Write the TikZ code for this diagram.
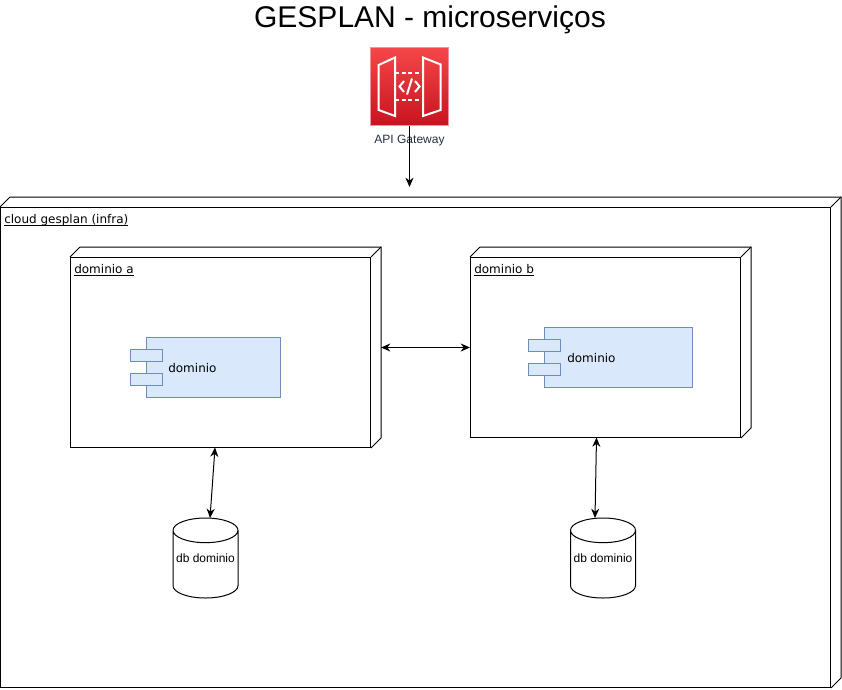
\documentclass[tikz,border=0pt]{standalone}
\usepackage{fontspec}
\setmainfont{Liberation Sans}
\newfontfamily\boxfont{DejaVu Sans}
\usetikzlibrary{calc, arrows.meta, shapes.geometric}
\definecolor{compfill}{HTML}{DAE8FC}
\definecolor{compline}{HTML}{6C8EBF}
\definecolor{awsink}{HTML}{232F3E}
\definecolor{awstop}{HTML}{F54749}
\definecolor{awsbottom}{HTML}{C7131F}
\definecolor{awsline}{HTML}{F0949A}
\newsavebox{\ulbox}
\newcommand{\boxul}[1]{\sbox{\ulbox}{#1}\rlap{\raisebox{-1.6pt}{\rule{\wd\ulbox}{0.6pt}}}\usebox{\ulbox}}
\tikzset{
    link/.style={line width=0.75pt, >={Stealth[length=7pt, width=6pt]}},
    boxthree/.style={draw=black, line width=0.75pt, minimum width=#1, inner sep=0pt},
    boxdepth/.style={draw=black, line width=0.75pt},
    boxlabel/.style={anchor=north west, inner sep=0pt, font=\boxfont\fontsize{9pt}{10pt}\selectfont},
    comp/.style={draw=compline, fill=compfill, line width=0.75pt, inner sep=0pt},
    port/.style={comp, minimum width=24pt, minimum height=9pt},
    compbody/.style={comp, minimum height=45pt},
    comptext/.style={inner sep=0pt, font=\boxfont\fontsize{9pt}{10pt}\selectfont},
    dbnode/.style={cylinder, shape border rotate=90, draw=black, line width=0.75pt, aspect=0.42,
        minimum width=48.75pt, minimum height=60pt, inner sep=0pt, font=\fontsize{9pt}{10pt}\selectfont},
    dbtext/.style={inner sep=0pt, font=\fontsize{9pt}{10pt}\selectfont},
    door/.style={draw=white, line width=1.5pt, line join=miter},
}
\begin{document}
\begin{tikzpicture}[x=0.75pt, y=-0.75pt]
    \useasboundingbox (0, 0) rectangle (842, 689);

    % Title and gateway icon
    \node[inner sep=0pt, font=\fontsize{22.5pt}{26pt}\selectfont] (title) at (430, 20) {GESPLAN - microserviços};
    \node[draw=awsline, line width=0.75pt, top color=awstop, bottom color=awsbottom,
        minimum size=59pt, inner sep=0pt] (gateway) at (409.5, 86.5) {};
    \node[inner sep=0pt, text=awsink, font=\fontsize{9pt}{10pt}\selectfont] (gatewaylabel) at (409.5, 141) {API Gateway};

    \draw[door] (378.7, 65) -- (395, 57.5) -- (395, 116) -- (378.7, 110) -- cycle;
    \draw[door] (423, 57.5) -- (440.7, 64.5) -- (440.7, 110) -- (423, 116) -- cycle;
    \draw[door, dash pattern=on 3pt off 2pt] (395, 72.7) -- (423, 72.7);
    \draw[door, dash pattern=on 3pt off 2pt] (395, 100.3) -- (423, 100.3);
    \draw[door] (404, 81) -- (399.5, 86.5) -- (404, 92);
    \draw[door] (415, 81) -- (419.5, 86.5) -- (415, 92);
    \draw[door] (412, 78.5) -- (407, 94.5);

    % Outer cloud box
    \node[boxthree=622.5pt, minimum height=360pt] (cloud) at (415.5, 447.5) {};
    \node[boxlabel] (cloudlabel) at (4, 214) {\boxul{cloud gesplan (infra)}};

    % Domain boxes
    \node[boxthree=225pt, minimum height=142.5pt] (doma) at (220.5, 352.5) {};
    \node[boxlabel] (domalabel) at (74, 264) {\boxul{dominio a}};
    \node[boxthree=202.5pt, minimum height=135pt] (domb) at (605.5, 347.5) {};
    \node[boxlabel] (domblabel) at (474, 264) {\boxul{dominio b}};

    % Depth of the three boxes
    \foreach \boxname in {cloud, doma, domb} {
        \draw[boxdepth] (\boxname.north west) -- ++(7.5pt, 7.5pt) -- ($(\boxname.north east)+(7.5pt, 7.5pt)$)
            -- ($(\boxname.south east)+(7.5pt, 7.5pt)$) -- (\boxname.south east);
        \draw[boxdepth] (\boxname.north east) -- ++(7.5pt, 7.5pt);
    }

    % Components
    \node[compbody, minimum width=100.5pt] (compa) at (213.5, 367.5) {};
    \node[port] (compaup) at (146.5, 355.5) {};
    \node[port] (compadown) at (146.5, 379.5) {};
    \node[comptext, anchor=west] (compatext) at (168, 368) {dominio};

    \node[compbody, minimum width=111pt] (compb) at (618.5, 357.5) {};
    \node[port] (compbup) at (544.5, 345.5) {};
    \node[port] (compbdown) at (544.5, 369.5) {};
    \node[comptext, anchor=west] (compbtext) at (567, 358) {dominio};

    % Databases
    \node[dbnode, anchor=shape center] (dba) at (205.5, 558) {\phantom{db dominio}};
    \node[dbtext] (dbatext) at (205.5, 558) {db dominio};
    \node[dbnode, anchor=shape center] (dbb) at (603, 558) {\phantom{db dominio}};
    \node[dbtext] (dbbtext) at (603, 558) {db dominio};

    % Connectors
    \coordinate (gatewayend) at (409.5, 187);
    \coordinate (domaedge) at (381, 347.5);
    \coordinate (dbatop) at (210, 518);
    \coordinate (dbbtop) at (595, 518);
    \coordinate (domabottom) at (215, 447.5);
    \coordinate (dombbottom) at (596.5, 437.5);
    \draw[link, ->] (gateway.south) -- (gatewayend);
    \draw[link, <->] (domaedge) -- (domaedge -| domb.west);
    \draw[link, <->] (domabottom) -- (dbatop);
    \draw[link, <->] (dombbottom) -- (dbbtop);
\end{tikzpicture}
\end{document}
